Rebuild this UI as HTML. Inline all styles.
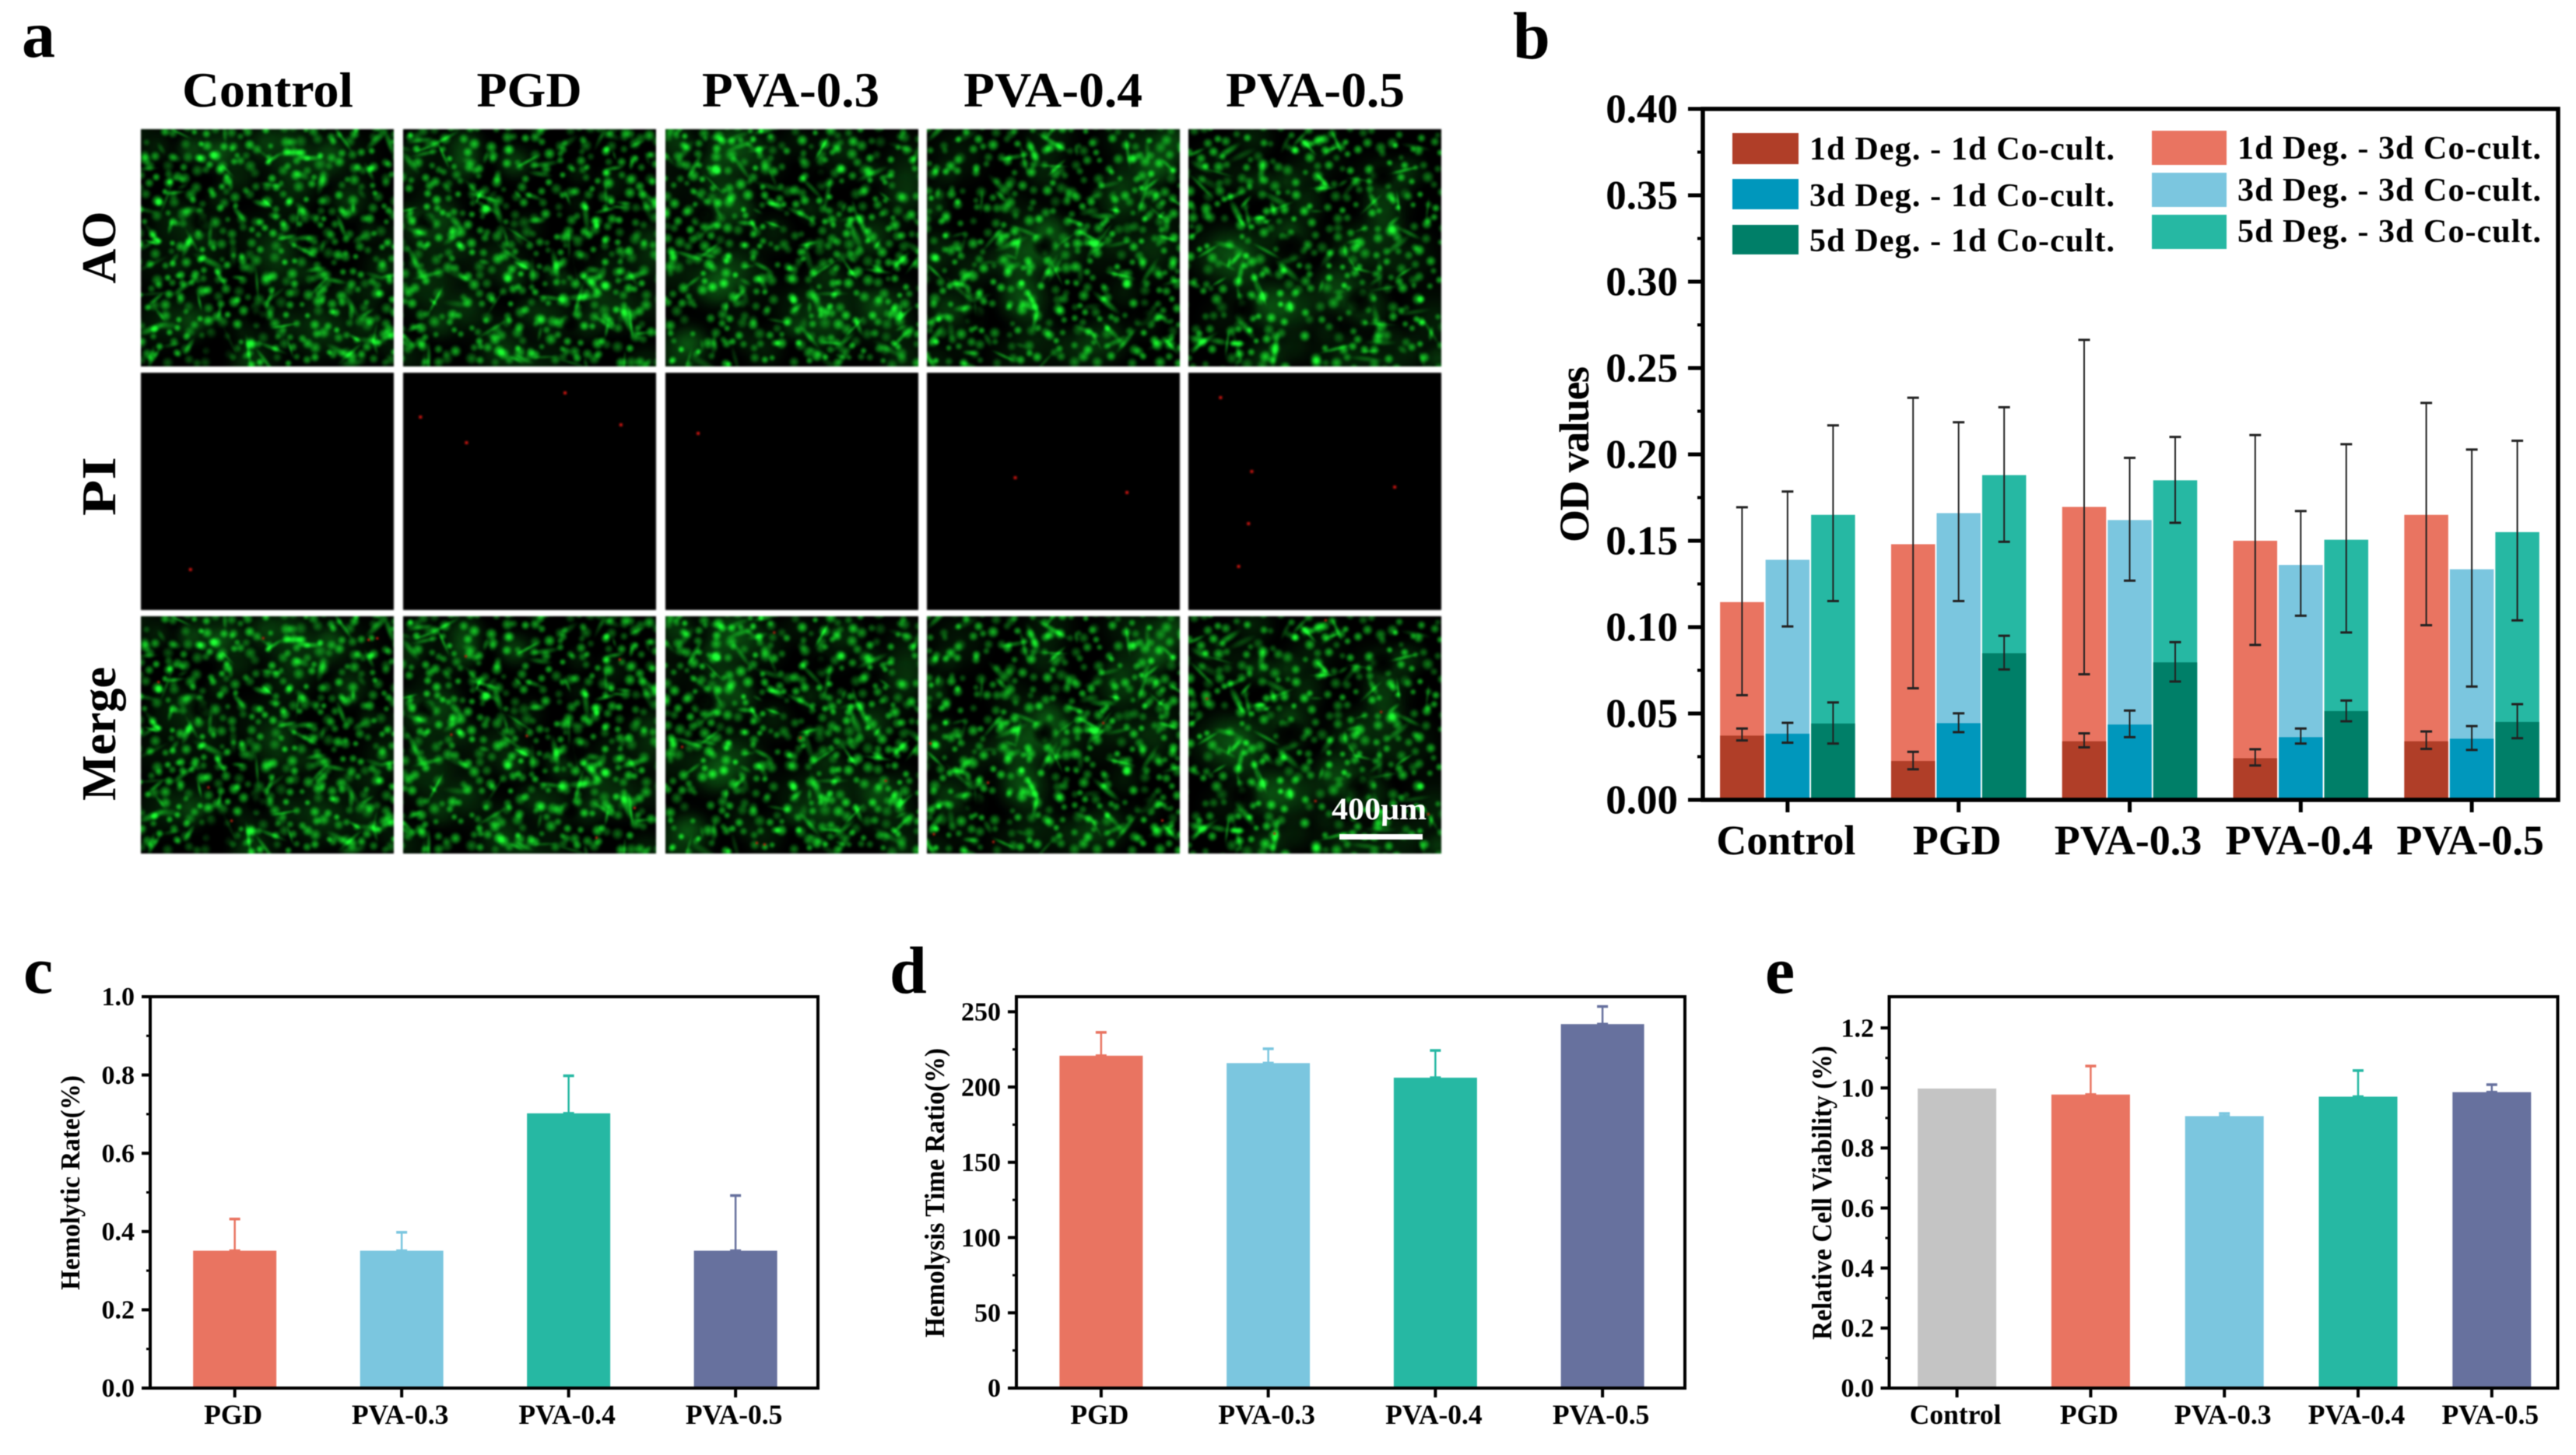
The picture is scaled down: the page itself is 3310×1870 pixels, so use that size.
<!DOCTYPE html>
<html lang="en">
<head>
<meta charset="utf-8">
<title>Biocompatibility figure</title>
<style>
html,body{margin:0;padding:0;background:#fff;width:3310px;height:1870px;overflow:hidden}
#figure{position:relative;width:3310px;height:1870px;background:#fff}
canvas{position:absolute;display:block;filter:blur(1px)}
svg{position:absolute;left:0;top:0;filter:blur(.6px)}
text{font-family:"Liberation Serif",serif;font-weight:700;fill:#000}
</style>
</head>
<body>
<div id="figure">
<div id="micrographs"></div>
<svg id="chart" width="3310" height="1870" viewBox="0 0 3310 1870">
  <g>
    <text x="28" y="73" font-size="86">a</text>
    <text x="1944" y="75" font-size="86">b</text>
    <text x="30" y="1276" font-size="86">c</text>
    <text x="1143" y="1276" font-size="86">d</text>
    <text x="2268" y="1276" font-size="86">e</text>
  </g>
  <g font-size="64" text-anchor="middle">
    <text x="344" y="137" textLength="220" lengthAdjust="spacingAndGlyphs">Control</text>
    <text x="680" y="137">PGD</text>
    <text x="1016" y="137" textLength="228" lengthAdjust="spacingAndGlyphs">PVA-0.3</text>
    <text x="1353" y="137" textLength="230" lengthAdjust="spacingAndGlyphs">PVA-0.4</text>
    <text x="1690" y="137" textLength="230" lengthAdjust="spacingAndGlyphs">PVA-0.5</text>
  </g>
  <g font-size="62" text-anchor="middle">
    <text transform="translate(148 318) rotate(-90)">AO</text>
    <text transform="translate(148 625) rotate(-90)" textLength="76" lengthAdjust="spacingAndGlyphs">PI</text>
    <text transform="translate(148 943) rotate(-90)">Merge</text>
  </g>
  <g>
    <text x="1711" y="1053" font-size="40" textLength="122" lengthAdjust="spacingAndGlyphs" style="fill:#fff">400μm</text>
    <rect x="1721" y="1072" width="107" height="7" fill="#fff"></rect>
  </g>
  <g id="panel-b"></g>
  <g id="panel-c"></g>
  <g id="panel-d"></g>
  <g id="panel-e"></g>
  <text transform="translate(2041 584) rotate(-90)" font-size="54" text-anchor="middle" textLength="226">OD values</text>
  <text transform="translate(102 1520) rotate(-90)" font-size="35" text-anchor="middle" textLength="276" lengthAdjust="spacingAndGlyphs">Hemolytic Rate(%)</text>
  <text transform="translate(1213 1533) rotate(-90)" font-size="36" text-anchor="middle" textLength="372" lengthAdjust="spacingAndGlyphs">Hemolysis Time Ratio(%)</text>
  <text transform="translate(2353 1533) rotate(-90)" font-size="36" text-anchor="middle" textLength="378" lengthAdjust="spacingAndGlyphs">Relative Cell Viability (%)</text>
  <g font-size="42">
    <g>
      <rect x="2226" y="171" width="85" height="40" fill="#B03E28"></rect>
      <text x="2325" y="205" textLength="392">1d Deg. - 1d Co-cult.</text>
    </g>
    <g>
      <rect x="2226" y="230" width="85" height="39" fill="#0097BC"></rect>
      <text x="2325" y="265" textLength="392">3d Deg. - 1d Co-cult.</text>
    </g>
    <g>
      <rect x="2226" y="289" width="85" height="38" fill="#007F68"></rect>
      <text x="2325" y="323" textLength="392">5d Deg. - 1d Co-cult.</text>
    </g>
    <g>
      <rect x="2765" y="168" width="96" height="44" fill="#E97461"></rect>
      <text x="2875" y="204" textLength="390">1d Deg. - 3d Co-cult.</text>
    </g>
    <g>
      <rect x="2765" y="222" width="96" height="44" fill="#7BC6DF"></rect>
      <text x="2875" y="258" textLength="390">3d Deg. - 3d Co-cult.</text>
    </g>
    <g>
      <rect x="2765" y="276" width="96" height="44" fill="#26B8A3"></rect>
      <text x="2875" y="311" textLength="390">5d Deg. - 3d Co-cult.</text>
    </g>
  </g>
</svg>
</div>
<script>
/* ---------- chart data ---------- */
const bCategories = ['Control', 'PGD', 'PVA-0.3', 'PVA-0.4', 'PVA-0.5'];
const bTickLabels = ['0.00', '0.05', '0.10', '0.15', '0.20', '0.25', '0.30', '0.35', '0.40'];
const bTickValues = [0, 0.05, 0.10, 0.15, 0.20, 0.25, 0.30, 0.35, 0.40];
const bMinorValues = [0.025, 0.075, 0.125, 0.175, 0.225, 0.275, 0.325, 0.375];

const deg1dCo3d = [0.1145, 0.148, 0.1696, 0.150, 0.165];
const deg1dCo3dHigh = [0.1694, 0.2328, 0.2663, 0.2112, 0.2298];
const deg1dCo3dLow = [0.0606, 0.0646, 0.0727, 0.0897, 0.1011];
const deg3dCo3d = [0.139, 0.166, 0.162, 0.136, 0.1335];
const deg3dCo3dHigh = [0.1785, 0.2186, 0.198, 0.1672, 0.2028];
const deg3dCo3dLow = [0.1004, 0.1151, 0.1269, 0.1066, 0.0656];
const deg5dCo3d = [0.165, 0.188, 0.185, 0.1506, 0.155];
const deg5dCo3dHigh = [0.2168, 0.2273, 0.2101, 0.2059, 0.2079];
const deg5dCo3dLow = [0.1151, 0.1494, 0.1604, 0.0969, 0.1039];

const deg1dCo1d = [0.0372, 0.0225, 0.0339, 0.0241, 0.0339];
const deg1dCo1dHigh = [0.0413, 0.0278, 0.0385, 0.0293, 0.0396];
const deg1dCo1dLow = [0.0344, 0.0177, 0.0304, 0.0199, 0.0295];
const deg3dCo1d = [0.0383, 0.0444, 0.0436, 0.0363, 0.0354];
const deg3dCo1dHigh = [0.0446, 0.0501, 0.0517, 0.0413, 0.0427];
const deg3dCo1dLow = [0.0331, 0.0392, 0.0363, 0.0326, 0.0289];
const deg5dCo1d = [0.0442, 0.0849, 0.0796, 0.0514, 0.0451];
const deg5dCo1dHigh = [0.0564, 0.095, 0.0913, 0.0575, 0.0554];
const deg5dCo1dLow = [0.0326, 0.0755, 0.0685, 0.0455, 0.0357];

const cCategories = ['PGD', 'PVA-0.3', 'PVA-0.4', 'PVA-0.5'];
const cValues = [0.351, 0.351, 0.702, 0.351];
const cErrorTops = [0.432, 0.398, 0.798, 0.492];
const cTickLabels = ['0.0', '0.2', '0.4', '0.6', '0.8', '1.0'];
const cTickValues = [0, 0.2, 0.4, 0.6, 0.8, 1.0];
const cMinorValues = [0.1, 0.3, 0.5, 0.7, 0.9];

const dCategories = ['PGD', 'PVA-0.3', 'PVA-0.4', 'PVA-0.5'];
const dValues = [220.8, 215.9, 206.2, 241.8];
const dErrorTops = [236.3, 225.4, 224.3, 253.5];
const dTickLabels = ['0', '50', '100', '150', '200', '250'];
const dTickValues = [0, 50, 100, 150, 200, 250];
const dMinorValues = [25, 75, 125, 175, 225];

const eCategories = ['Control', 'PGD', 'PVA-0.3', 'PVA-0.4', 'PVA-0.5'];
const eValues = [0.998, 0.978, 0.906, 0.971, 0.986];
const eErrorTops = [0.998, 1.073, 0.915, 1.058, 1.011];
const eTickLabels = ['0.0', '0.2', '0.4', '0.6', '0.8', '1.0', '1.2'];
const eTickValues = [0, 0.2, 0.4, 0.6, 0.8, 1.0, 1.2];
const eMinorValues = [0.1, 0.3, 0.5, 0.7, 0.9, 1.1];

/* ---------- styles ---------- */
const RED = '#E97461', BLUE = '#7BC6DF', TEAL = '#26B8A3', NAVY = '#67719E', GRAY = '#C4C4C4';
const DRED = '#B03E28', DBLUE = '#0097BC', DTEAL = '#007F68';
const SVGNS = 'http://www.w3.org/2000/svg';

function mk(parent, tag, attrs) {
  const el = document.createElementNS(SVGNS, tag);
  for (const k in attrs) el.setAttribute(k, attrs[k]);
  parent.appendChild(el);
  return el;
}
function yScale(max, top, bottom) {
  return v => bottom - (v / max) * (bottom - top);
}
function bandScale(count, left, right, shift) {
  const step = (right - left) / count;
  return i => left + step * (i + 0.5) + shift;
}

function drawBar(g, x, w, yTop, yBase, color, name) {
  const el = mk(g, 'rect', {x: x, y: yTop, width: w, height: yBase - yTop, fill: color});
  
  
}
function drawError(g, x, y1, y2, capW, color, sw, name) {
  const group = mk(g, 'g', {stroke: color, 'stroke-width': sw, fill: 'none'});
  
  
  mk(group, 'line', {x1: x, x2: x, y1: y1, y2: y2});
  mk(group, 'line', {x1: x - capW / 2, x2: x + capW / 2, y1: y1, y2: y1, 'stroke-width': sw + 1});
  if (y2 !== undefined && y2 !== y1) mk(group, 'line', {x1: x - capW / 2, x2: x + capW / 2, y1: y2, y2: y2, 'stroke-width': sw + 1});
}
function drawAxes(g, o, y, x, cats, tickVals, tickLabels, minorVals) {
  const frame = mk(g, 'rect', {x: o.l, y: o.t, width: o.r - o.l, height: o.b - o.t, fill: 'none', stroke: '#000', 'stroke-width': o.sw});
  
  
  tickVals.forEach((v, i) => {
    const t = mk(g, 'line', {x1: o.l - o.major, x2: o.l, y1: y(v), y2: y(v), stroke: '#000', 'stroke-width': o.tickW});
    
    
    const lab = mk(g, 'text', {x: o.labelRight, y: y(v) + o.yFont * 0.33, 'text-anchor': 'end', 'font-size': o.yFont});
    lab.textContent = tickLabels[i];
    
    
  });
  minorVals.forEach(v => {
    const t = mk(g, 'line', {x1: o.l - o.minor, x2: o.l, y1: y(v), y2: y(v), stroke: '#000', 'stroke-width': o.tickW - 1});
    
    
  });
  cats.forEach((c, i) => {
    const t = mk(g, 'line', {x1: x(i), x2: x(i), y1: o.b, y2: o.b + o.xTick, stroke: '#000', 'stroke-width': o.tickW});
    
    
    const lab = mk(g, 'text', {x: x(i) + o.xLabelShift, y: o.xBase, 'text-anchor': 'middle', 'font-size': o.xFont});
    lab.textContent = c;
    
    
  });
}

/* ---------- panel b ---------- */
(function () {
  const g = document.getElementById('panel-b');
  const o = {l: 2188, r: 3287, t: 140, b: 1028, sw: 5.5, major: 19, minor: 7, tickW: 5, labelRight: 2156, yFont: 53, xFont: 54, xTick: 16, xBase: 1098, xLabelShift: -2};
  const y = yScale(0.40, o.t, o.b);
  const x = bandScale(bCategories.length, o.l, o.r, -1);
  const barW = 56.5, pitch = 58.5;
  const upper = [[deg1dCo3d, deg1dCo3dHigh, deg1dCo3dLow, RED], [deg3dCo3d, deg3dCo3dHigh, deg3dCo3dLow, BLUE], [deg5dCo3d, deg5dCo3dHigh, deg5dCo3dLow, TEAL]];
  const lower = [[deg1dCo1d, deg1dCo1dHigh, deg1dCo1dLow, DRED], [deg3dCo1d, deg3dCo1dHigh, deg3dCo1dLow, DBLUE], [deg5dCo1d, deg5dCo1dHigh, deg5dCo1dLow, DTEAL]];
  [upper, lower].forEach(set => set.forEach((s, k) => {
    bCategories.forEach((c, i) => {
      const cx = x(i) + (k - 1) * pitch;
      drawBar(g, cx - barW / 2, barW, y(s[0][i]), o.b, s[3], 'bar-' + c + '-' + k);
    });
  }));
  [upper, lower].forEach(set => set.forEach((s, k) => {
    bCategories.forEach((c, i) => {
      const cx = x(i) + (k - 1) * pitch;
      drawError(g, cx, y(s[1][i]), y(s[2][i]), 15, '#222', 2, 'error-bar-' + c + '-' + k);
    });
  }));
  drawAxes(g, o, y, x, bCategories, bTickValues, bTickLabels, bMinorValues);
})();

/* ---------- panels c, d, e ---------- */
function simplePanel(id, o, yMax, cats, vals, errs, colors, barW, tickVals, tickLabels, minorVals) {
  const g = document.getElementById(id);
  const y = yScale(yMax, o.t, o.b);
  const x = bandScale(cats.length, o.l, o.r, o.shift);
  cats.forEach((c, i) => {
    if (errs[i] > vals[i]) drawError(g, x(i), y(errs[i]), y(vals[i]), 14, colors[i], 2.5, 'error-bar-' + c);
    drawBar(g, x(i) - barW / 2, barW, y(vals[i]), o.b, colors[i], 'bar-' + c);
  });
  drawAxes(g, o, y, x, cats, tickVals, tickLabels, minorVals);
}
const lowerCommon = {t: 1281, b: 1784, sw: 4, major: 11, minor: 5, tickW: 4, yFont: 34, xFont: 35.5, xTick: 12, xBase: 1830, xLabelShift: -2};
simplePanel('panel-c', Object.assign({}, lowerCommon, {l: 193, r: 1051, shift: 1.4, labelRight: 173}), 1.0, cCategories, cValues, cErrorTops, [RED, BLUE, TEAL, NAVY], 107, cTickValues, cTickLabels, cMinorValues);
simplePanel('panel-d', Object.assign({}, lowerCommon, {l: 1306, r: 2165, shift: 1.5, labelRight: 1286}), 260, dCategories, dValues, dErrorTops, [RED, BLUE, TEAL, NAVY], 107, dTickValues, dTickLabels, dMinorValues);
simplePanel('panel-e', Object.assign({}, lowerCommon, {l: 2427.5, r: 3286.5, shift: 1.2, labelRight: 2408}), 1.304, eCategories, eValues, eErrorTops, [GRAY, RED, BLUE, TEAL, NAVY], 101, eTickValues, eTickLabels, eMinorValues);

/* ---------- micrograph textures (procedural stand-ins for photographs) ---------- */
function prng(seed) {
  let a = seed >>> 0;
  return function () {
    a = (a + 0x6D2B79F5) >>> 0;
    let t = a;
    t = Math.imul(t ^ (t >>> 15), t | 1);
    t ^= t + Math.imul(t ^ (t >>> 7), t | 61);
    return ((t ^ (t >>> 14)) >>> 0) / 4294967296;
  };
}
const sprite = document.createElement('canvas');
sprite.width = sprite.height = 64;
(function () {
  const c = sprite.getContext('2d');
  const gr = c.createRadialGradient(32, 32, 0, 32, 32, 32);
  gr.addColorStop(0, 'rgba(24,215,40,1)');
  gr.addColorStop(0.5, 'rgba(15,160,28,.75)');
  gr.addColorStop(1, 'rgba(0,75,8,0)');
  c.fillStyle = gr;
  c.fillRect(0, 0, 64, 64);
})();
function paintGreen(ctx, w, h, seed, density, holes) {
  const r = prng(seed);
  ctx.fillStyle = '#000';
  ctx.fillRect(0, 0, w, h);
  ctx.globalCompositeOperation = 'lighter';
  for (let i = 0; i < 55; i++) {
    const s = 40 + r() * 60;
    ctx.globalAlpha = 0.06 + r() * 0.1;
    ctx.drawImage(sprite, r() * w - s / 2, r() * h - s / 2, s, s);
  }
  const step = 14 / density;
  for (let yy = 2; yy < h; yy += step) {
    for (let xx = 2; xx < w; xx += step) {
      if (r() < 0.12) continue;
      const s = 10 + r() * 9;
      ctx.globalAlpha = 0.35 + r() * 0.55;
      ctx.drawImage(sprite, xx + (r() - 0.5) * step - s / 2, yy + (r() - 0.5) * step - s / 2, s, s);
    }
  }
  for (let i = 0; i < 95; i++) {
    ctx.save();
    ctx.translate(r() * w, r() * h);
    ctx.rotate(r() * Math.PI);
    const len = 16 + r() * 36, th = 5 + r() * 8;
    ctx.globalAlpha = 0.25 + r() * 0.45;
    ctx.drawImage(sprite, -len / 2, -th / 2, len, th);
    ctx.restore();
  }
  ctx.globalCompositeOperation = 'source-over';
  ctx.globalAlpha = 1;
  holes.forEach(p => {
    const gr = ctx.createRadialGradient(p[0], p[1], 0, p[0], p[1], p[2]);
    gr.addColorStop(0, 'rgba(0,0,0,.95)');
    gr.addColorStop(0.55, 'rgba(0,0,0,.7)');
    gr.addColorStop(1, 'rgba(0,0,0,0)');
    ctx.fillStyle = gr;
    ctx.beginPath();
    ctx.arc(p[0], p[1], p[2], 0, Math.PI * 2);
    ctx.fill();
  });
}
const gridColumns = ['control', 'pgd', 'pva-03', 'pva-04', 'pva-05'];
const gridLeft = [181, 518, 855, 1191, 1527];
const gridTop = {ao: 166, pi: 479, merge: 792};
const densities = [1, 1, 1, 0.96, 0.88];
const holeSets = [
  [[100, 277, 34], [78, 120, 16], [150, 240, 16]],
  [[222, 175, 18], [28, 120, 14], [215, 250, 12]],
  [[50, 110, 16], [200, 60, 14]],
  [[150, 150, 16], [280, 240, 16], [60, 240, 15]],
  [[130, 150, 22], [250, 60, 18], [70, 230, 20], [220, 220, 20]]
];
const piSpecks = [
  [115, 251], [343, 24], [377, 65], [283, 88], [255, 55],
  [424, 76], [617, 133], [685, 152], [742, 30], [761, 125], [759, 192], [753, 247], [848, 145]
];
const host = document.getElementById('micrographs');
gridColumns.forEach((col, i) => {
  ['ao', 'pi', 'merge'].forEach(row => {
    const cv = document.createElement('canvas');
    
    
    cv.width = 325;
    cv.height = 305;
    cv.style.left = gridLeft[i] + 'px';
    cv.style.top = gridTop[row] + 'px';
    host.appendChild(cv);
    const ctx = cv.getContext('2d');
    if (row === 'pi') {
      ctx.fillStyle = '#000';
      ctx.fillRect(0, 0, 325, 305);
      ctx.fillStyle = '#c01410';
      piSpecks.forEach(p => {
        const px = p[0] * 2.111 - gridLeft[i], py = p[1];
        if (px >= 0 && px < 325) ctx.fillRect(px, py, 4, 4);
      });
    } else {
      paintGreen(ctx, 325, 305, 1000 + i * 77, densities[i], holeSets[i]);
      if (row === 'merge') {
        const r2 = prng(500 + i);
        ctx.fillStyle = '#b82010';
        for (let k = 0; k < 6; k++) ctx.fillRect(r2() * 320, r2() * 300, 3, 3);
      }
    }
  });
});
</script>
</body>
</html>
